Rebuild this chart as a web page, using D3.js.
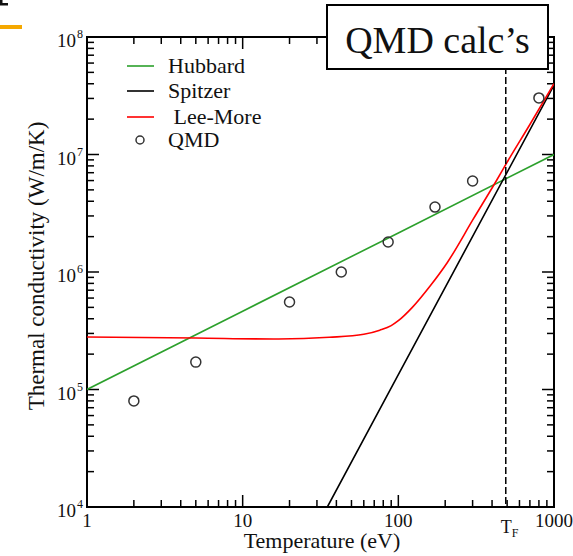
<!DOCTYPE html>
<html>
<head>
<meta charset="utf-8">
<script src="https://cdn.jsdelivr.net/npm/d3@7"></script>
<style>
  html, body { margin: 0; padding: 0; background: #fff; }
  svg { display: block; }
  text { font-family: "Liberation Serif", "DejaVu Serif", serif; fill: #111; }
</style>
</head>
<body>
<svg id="chart" width="573" height="556"></svg>
<script>
// ---- data ----
const hubbardT = [1, 10, 100, 1000];
const hubbardK = [1.0e5, 4.64e5, 2.15e6, 1.0e7];

const spitzerT = [35, 100, 1000];
const spitzerK = [1.0e4, 1.34e5, 3.9e7];

const leeMoreT = [1, 5, 17, 36, 60, 76, 90, 100, 123, 160, 206, 302, 430, 500, 700, 1000];
const leeMoreK = [2.8e5, 2.74e5, 2.69e5, 2.78e5, 2.95e5, 3.2e5, 3.5e5, 3.85e5, 5.0e5, 7.6e5, 1.2e6, 2.8e6, 6.1e6, 8.6e6, 1.8e7, 4.0e7];

const qmdT = [2, 5, 20, 43, 86, 172, 300, 800];
const qmdK = [8.0e4, 1.71e5, 5.56e5, 1.0e6, 1.8e6, 3.57e6, 5.95e6, 3.03e7];

const xMajor = [1, 10, 100, 1000];
const xMajorLabels = ["1", "10", "100", "1000"];
const yExponents = [4, 5, 6, 7, 8];
const TF = 490;

const legendNames = ["Hubbard", "Spitzer", " Lee-More", "QMD"];
const legendColors = ["#2ca02c", "#000000", "#ff0000", null];

// ---- layout ----
const svg = d3.select("#chart");
const L = 87, R = 554, T = 37, B = 507;
const x = d3.scaleLog().domain([1, 1000]).range([L, R]);
const y = d3.scaleLog().domain([1e4, 1e8]).range([B, T]);

svg.append("defs").append("clipPath").attr("id", "plotclip")
  .append("rect").attr("x", L).attr("y", T).attr("width", R - L).attr("height", B - T);

// minor tick values
const xMinor = [];
[1, 10, 100].forEach(d => { for (let k = 2; k <= 9; k++) xMinor.push(d * k); });
const yMinor = [];
[1e4, 1e5, 1e6, 1e7].forEach(d => { for (let k = 2; k <= 9; k++) yMinor.push(d * k); });
const yMajor = yExponents.map(e => Math.pow(10, e));

const majLen = 12, minLen = 7;
const axisColor = "#000";
const g = svg.append("g");

// ticks all four sides (inward)
function xTicks(vals, len) {
  vals.forEach(v => {
    const px = x(v);
    g.append("line").attr("x1", px).attr("x2", px).attr("y1", B).attr("y2", B - len)
      .attr("stroke", axisColor).attr("stroke-width", 1.5);
    g.append("line").attr("x1", px).attr("x2", px).attr("y1", T).attr("y2", T + len)
      .attr("stroke", axisColor).attr("stroke-width", 1.5);
  });
}
function yTicks(vals, len) {
  vals.forEach(v => {
    const py = y(v);
    g.append("line").attr("x1", L).attr("x2", L + len).attr("y1", py).attr("y2", py)
      .attr("stroke", axisColor).attr("stroke-width", 1.5);
    g.append("line").attr("x1", R).attr("x2", R - len).attr("y1", py).attr("y2", py)
      .attr("stroke", axisColor).attr("stroke-width", 1.5);
  });
}
xTicks(xMajor, majLen); xTicks(xMinor, minLen);
yTicks(yMajor, majLen); yTicks(yMinor, minLen);

// frame
g.append("rect").attr("x", L).attr("y", T).attr("width", R - L).attr("height", B - T)
  .attr("fill", "none").attr("stroke", axisColor).attr("stroke-width", 2);

// x tick labels
xMajor.forEach((v, i) => {
  g.append("text").attr("x", x(v)).attr("y", 527).attr("text-anchor", "middle")
    .attr("font-size", 19).text(xMajorLabels[i]);
});
// y tick labels
yExponents.forEach(e => {
  const py = y(Math.pow(10, e));
  g.append("text").attr("x", 76).attr("y", py + 10).attr("text-anchor", "end")
    .attr("font-size", 19).text("10");
  g.append("text").attr("x", 77).attr("y", py + 1).attr("font-size", 12).text(String(e));
});

// axis titles
svg.append("text").attr("x", 322).attr("y", 548).attr("text-anchor", "middle")
  .attr("font-size", 22).text("Temperature (eV)");
svg.append("text").attr("transform", "translate(44,266) rotate(-90)")
  .attr("text-anchor", "middle").attr("font-size", 23).text("Thermal conductivity (W/m/K)");

// T_F label
const tf = svg.append("text").attr("x", x(TF) - 5).attr("y", 533).attr("font-size", 18);
tf.append("tspan").text("T");
tf.append("tspan").attr("font-size", 12).attr("dy", 4).text("F");

// series
const plot = svg.append("g").attr("clip-path", "url(#plotclip)");
const lineGen = d3.line().x(d => x(d[0])).y(d => y(d[1]));
const smoothGen = d3.line().x(d => x(d[0])).y(d => y(d[1])).curve(d3.curveMonotoneX);

plot.append("path").datum(hubbardT.map((t, i) => [t, hubbardK[i]]))
  .attr("d", lineGen).attr("fill", "none").attr("stroke", "#2ca02c").attr("stroke-width", 1.6);
plot.append("path").datum(spitzerT.map((t, i) => [t, spitzerK[i]]))
  .attr("d", lineGen).attr("fill", "none").attr("stroke", "#000").attr("stroke-width", 1.6);
plot.append("path").datum(leeMoreT.map((t, i) => [t, leeMoreK[i]]))
  .attr("d", smoothGen).attr("fill", "none").attr("stroke", "#ff0000").attr("stroke-width", 1.6);

// dashed T_F line
plot.append("line").attr("x1", x(TF)).attr("x2", x(TF)).attr("y1", T).attr("y2", B)
  .attr("stroke", "#000").attr("stroke-width", 1.5).attr("stroke-dasharray", "7,3");

// QMD points
plot.selectAll("circle.qmd").data(qmdT.map((t, i) => [t, qmdK[i]])).enter()
  .append("circle").attr("class", "qmd")
  .attr("cx", d => x(d[0])).attr("cy", d => y(d[1])).attr("r", 5)
  .attr("fill", "none").attr("stroke", "#333").attr("stroke-width", 1.5);

// legend
const legY = [66, 91, 117, 140];
legendNames.forEach((name, i) => {
  if (legendColors[i]) {
    svg.append("line").attr("x1", 127).attr("x2", 154).attr("y1", legY[i]).attr("y2", legY[i])
      .attr("stroke", legendColors[i]).attr("stroke-width", 1.6);
  } else {
    svg.append("circle").attr("cx", 140).attr("cy", legY[i]).attr("r", 4)
      .attr("fill", "none").attr("stroke", "#333").attr("stroke-width", 1.5);
  }
  svg.append("text").attr("x", 168).attr("y", legY[i] + 7).attr("font-size", 22)
    .attr("xml:space", "preserve").style("white-space", "pre").text(name);
});

// QMD calc's box
svg.append("rect").attr("x", 327).attr("y", 5).attr("width", 221).attr("height", 64)
  .attr("fill", "#fff").attr("stroke", "#000").attr("stroke-width", 2);
svg.append("text").attr("x", 437.5).attr("y", 53).attr("text-anchor", "middle")
  .attr("font-size", 38).text("QMD calc’s");

// slide decoration (orange bar, partial glyph)
svg.append("line").attr("x1", 0).attr("x2", 22).attr("y1", 27).attr("y2", 27)
  .attr("stroke", "#f5a800").attr("stroke-width", 4);
svg.append("rect").attr("x", 0).attr("y", 3).attr("width", 8).attr("height", 2.5).attr("fill", "#111");
svg.append("rect").attr("x", 0).attr("y", 0).attr("width", 2.5).attr("height", 5).attr("fill", "#111");
</script>
</body>
</html>
